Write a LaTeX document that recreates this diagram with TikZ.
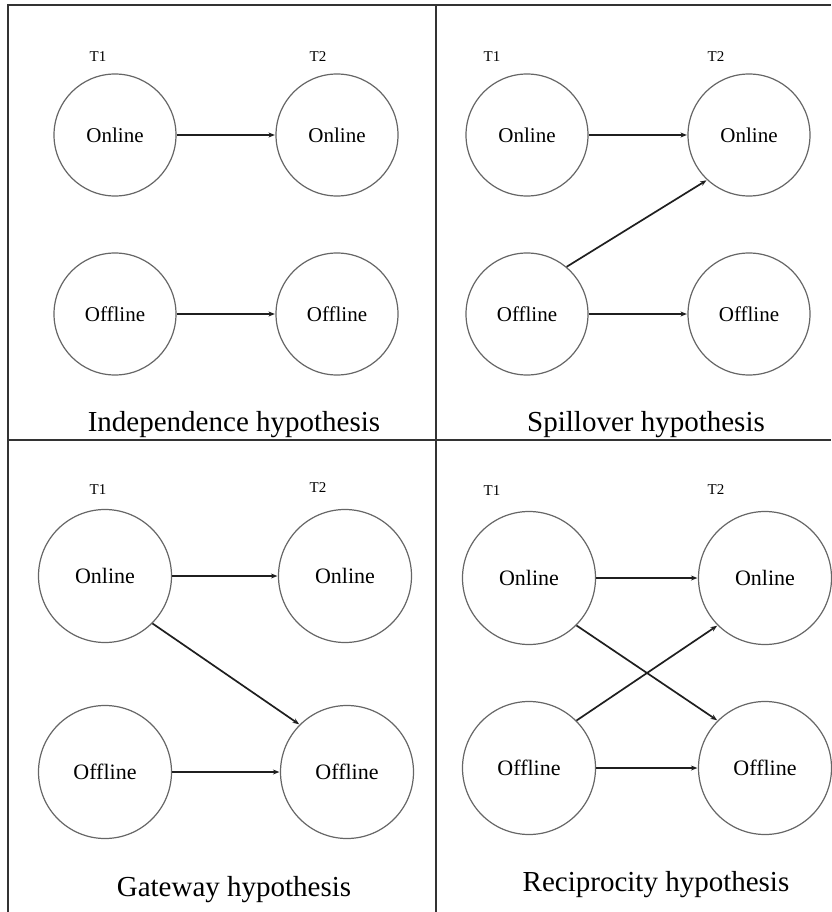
\documentclass[tikz,border=0pt]{standalone}
\usepackage{fontspec}
\setmainfont{Liberation Serif}
\usetikzlibrary{arrows.meta}
\begin{document}
\begin{tikzpicture}[x=1pt,y=-1pt,
  frameline/.style={draw=black!80,line width=1.6pt},
  state/.style={circle,draw=black!60,line width=1.2pt,inner sep=0pt,minimum size=#1,font=\fontsize{21}{24}\selectfont},
  state/.default=122pt,
  bigstate/.style={state=133pt,font=\fontsize{22}{25}\selectfont},
  tlabel/.style={font=\fontsize{15}{17}\selectfont,inner sep=0pt},
  caption/.style={font=\fontsize{29}{33}\selectfont,inner sep=0pt,anchor=base},
  link/.style={draw=black!88,line width=1.7pt,-{Stealth[length=6.5pt,width=5pt]},shorten >=0.5pt}]
\useasboundingbox (0,0) rectangle (831,912);
% frame
\coordinate (fTL) at (8,5);
\coordinate (fTR) at (831,5);
\coordinate (fBL) at (8,912);
\coordinate (fMT) at (436,5);
\coordinate (fMB) at (436,912);
\coordinate (fML) at (8,440);
\coordinate (fMR) at (831,440);
\draw[frameline] (fBL) -- (fTL) -- (fTR);
\draw[frameline] (fMT) -- (fMB);
\draw[frameline] (fML) -- (fMR);

% ---------- Independence ----------
\node[tlabel] (aT1) at (98,57) {T1};
\node[tlabel] (aT2) at (318,57) {T2};
\node[state] (aOn1) at (115,135) {Online};
\node[state] (aOn2) at (337,135) {Online};
\node[state] (aOff1) at (115,314) {Offline};
\node[state] (aOff2) at (337,314) {Offline};
\draw[link] (aOn1) -- (aOn2);
\draw[link] (aOff1) -- (aOff2);
\node[caption] (aCap) at (234,431) {Independence hypothesis};

% ---------- Spillover ----------
\node[tlabel] (bT1) at (492,57) {T1};
\node[tlabel] (bT2) at (716,57) {T2};
\node[state] (bOn1) at (527,135) {Online};
\node[state] (bOn2) at (749,135) {Online};
\node[state] (bOff1) at (527,314) {Offline};
\node[state] (bOff2) at (749,314) {Offline};
\draw[link] (bOn1) -- (bOn2);
\draw[link] (bOff1) -- (bOff2);
\draw[link] (bOff1.50) -- (bOn2.227);
\node[caption] (bCap) at (646,431) {Spillover hypothesis};

% ---------- Gateway ----------
\node[tlabel] (cT1) at (98,490) {T1};
\node[tlabel] (cT2) at (318,488) {T2};
\node[bigstate] (cOn1) at (105,576) {Online};
\node[bigstate] (cOn2) at (345,576) {Online};
\node[bigstate] (cOff1) at (105,772) {Offline};
\node[bigstate] (cOff2) at (347,772) {Offline};
\draw[link] (cOn1) -- (cOn2);
\draw[link] (cOff1) -- (cOff2);
\draw[link] (cOn1.315) -- (cOff2.135);
\node[caption] (cCap) at (234,896) {Gateway hypothesis};

% ---------- Reciprocity ----------
\node[tlabel] (dT1) at (492,491) {T1};
\node[tlabel] (dT2) at (716,490) {T2};
\node[bigstate] (dOn1) at (529,578) {Online};
\node[bigstate] (dOn2) at (765,578) {Online};
\node[bigstate] (dOff1) at (529,768) {Offline};
\node[bigstate] (dOff2) at (765,768) {Offline};
\draw[link] (dOn1) -- (dOn2);
\draw[link] (dOff1) -- (dOff2);
\draw[link] (dOn1.315) -- (dOff2.135);
\draw[link] (dOff1.45) -- (dOn2.225);
\node[caption] (dCap) at (656,891) {Reciprocity hypothesis};
\end{tikzpicture}
\end{document}
